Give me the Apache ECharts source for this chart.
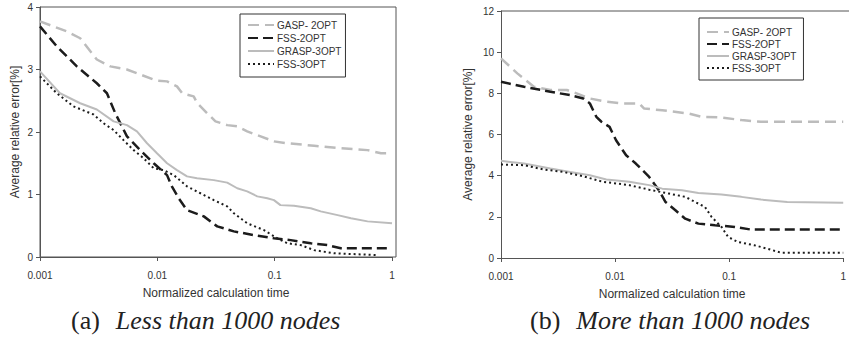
<!DOCTYPE html>
<html>
<head>
<meta charset="utf-8">
<script src="https://cdn.jsdelivr.net/npm/echarts@6/dist/echarts.min.js"></script>
<style>
  html, body { margin: 0; padding: 0; background: #fff; }
  #main { width: 849px; height: 342px; }
</style>
</head>
<body>
<div id="main"></div>
<script>
// series names + tick labels
const seriesNames = ['GASP- 2OPT', 'FSS-2OPT', 'GRASP-3OPT', 'FSS-3OPT'];
const xTickLabels = ['0.001', '0.01', '0.1', '1'];

// (a) less than 1000 nodes
const aGaspX = [0.001, 0.00169, 0.0022, 0.00305, 0.00398, 0.0055, 0.00716, 0.00993, 0.0121, 0.0147, 0.0163, 0.0204, 0.0219, 0.0266, 0.0313, 0.0394, 0.0479, 0.0583, 0.0759, 0.0986, 0.128, 0.217, 0.366, 0.619, 0.805, 1];
const aGaspY = [3.77, 3.61, 3.50, 3.16, 3.05, 3.00, 2.92, 2.82, 2.81, 2.73, 2.62, 2.57, 2.46, 2.30, 2.17, 2.11, 2.09, 2.01, 1.93, 1.85, 1.82, 1.78, 1.74, 1.71, 1.66, 1.66];
const aFss2X = [0.001, 0.00139, 0.00206, 0.00305, 0.00372, 0.00438, 0.00551, 0.00716, 0.00931, 0.0121, 0.0133, 0.0152, 0.0179, 0.0249, 0.0324, 0.0449, 0.0665, 0.0986, 0.137, 0.203, 0.282, 0.366, 0.95];
const aFss2Y = [3.69, 3.37, 3.05, 2.78, 2.62, 2.30, 1.93, 1.71, 1.50, 1.31, 1.13, 0.94, 0.75, 0.65, 0.49, 0.41, 0.35, 0.30, 0.27, 0.22, 0.19, 0.14, 0.14];
const aGrasp3X = [0.001, 0.00148, 0.0022, 0.00305, 0.00424, 0.00551, 0.0067, 0.00817, 0.00993, 0.0121, 0.0147, 0.0179, 0.0218, 0.0303, 0.0394, 0.048, 0.0583, 0.0711, 0.0865, 0.0986, 0.112, 0.146, 0.203, 0.247, 0.344, 0.447, 0.619, 1];
const aGrasp3Y = [2.97, 2.62, 2.46, 2.36, 2.17, 2.11, 2.01, 1.82, 1.66, 1.50, 1.39, 1.29, 1.26, 1.23, 1.19, 1.10, 1.05, 0.97, 0.94, 0.91, 0.83, 0.82, 0.78, 0.73, 0.67, 0.62, 0.57, 0.54];
const aFss3X = [0.001, 0.00139, 0.00193, 0.00286, 0.00348, 0.00424, 0.00515, 0.00628, 0.00764, 0.00931, 0.0113, 0.0138, 0.0179, 0.0233, 0.0303, 0.0394, 0.0449, 0.0583, 0.0811, 0.105, 0.128, 0.167, 0.217, 0.321, 0.753];
const aFss3Y = [2.89, 2.62, 2.41, 2.28, 2.14, 2.03, 1.87, 1.71, 1.58, 1.42, 1.39, 1.31, 1.13, 1.02, 0.91, 0.81, 0.70, 0.54, 0.43, 0.30, 0.22, 0.19, 0.11, 0.06, 0.03];

// (b) more than 1000 nodes
const bGaspX = [0.001, 0.00139, 0.00194, 0.00271, 0.00378, 0.0046, 0.00601, 0.00838, 0.0117, 0.0163, 0.018, 0.0259, 0.0441, 0.0575, 0.0857, 0.128, 0.19, 0.323, 1];
const bGaspY = [9.70, 8.97, 8.32, 8.16, 8.16, 8.00, 7.75, 7.59, 7.51, 7.51, 7.26, 7.18, 7.02, 6.86, 6.83, 6.70, 6.62, 6.62, 6.62];
const bFss2X = [0.001, 0.00159, 0.00271, 0.00404, 0.00526, 0.00601, 0.00685, 0.00759, 0.00895, 0.0102, 0.0125, 0.0152, 0.0199, 0.0242, 0.0277, 0.0338, 0.0412, 0.0538, 0.075, 0.112, 0.156, 1];
const bFss2Y = [8.56, 8.32, 8.08, 7.91, 7.75, 7.51, 6.86, 6.62, 6.37, 5.72, 4.99, 4.59, 3.94, 3.29, 2.72, 2.32, 1.91, 1.67, 1.59, 1.51, 1.38, 1.38];
const bGrasp3X = [0.001, 0.00159, 0.00271, 0.00404, 0.00601, 0.00838, 0.0133, 0.0199, 0.0259, 0.0386, 0.0538, 0.0857, 0.128, 0.19, 0.323, 1];
const bGrasp3Y = [4.72, 4.59, 4.35, 4.18, 4.02, 3.81, 3.70, 3.54, 3.37, 3.29, 3.16, 3.08, 2.97, 2.84, 2.72, 2.69];
const bFss3X = [0.001, 0.00159, 0.00237, 0.00353, 0.00526, 0.00783, 0.0133, 0.0199, 0.0296, 0.0412, 0.0504, 0.0614, 0.0702, 0.0857, 0.098, 0.119, 0.166, 0.217, 0.283, 1];
const bFss3Y = [4.54, 4.51, 4.30, 4.18, 3.97, 3.70, 3.54, 3.32, 3.13, 2.97, 2.72, 2.48, 1.99, 1.51, 1.02, 0.78, 0.62, 0.45, 0.26, 0.26];

const LIGHT = '#bcbcbc';
const DARK = '#1c1c1c';
const FONT = "'Liberation Sans', Arial, sans-serif";
const SERIF = "'Liberation Serif', 'Times New Roman', serif";

// line look for each method (same order as seriesNames)
const looks = [
  { color: LIGHT, width: 2.5, type: [11, 6] },
  { color: DARK, width: 2.5, type: [10, 5] },
  { color: LIGHT, width: 2, type: 'solid' },
  { color: DARK, width: 2, type: [2, 3] }
];

function pairs(xs, ys) {
  return xs.map((x, i) => [x, ys[i]]);
}

function lineSeries(k, xs, ys, idx) {
  return {
    name: seriesNames[k],
    type: 'line',
    xAxisIndex: idx,
    yAxisIndex: idx,
    symbol: 'none',
    animation: false,
    lineStyle: { color: looks[k].color, width: looks[k].width, type: looks[k].type },
    itemStyle: { color: looks[k].color },
    data: pairs(xs, ys)
  };
}

function xAxisFor(idx) {
  return {
    type: 'log',
    logBase: 10,
    gridIndex: idx,
    min: 0.001,
    max: 1,
    name: 'Normalized calculation time',
    nameLocation: 'middle',
    nameGap: 30,
    nameTextStyle: { fontSize: 12, color: '#333', fontFamily: FONT },
    axisLine: { lineStyle: { color: '#555', width: 1 } },
    axisTick: { inside: false, length: 4, lineStyle: { color: '#555' } },
    minorTick: { show: false },
    splitLine: { show: false },
    axisLabel: {
      fontSize: 10, color: '#333', fontFamily: FONT, margin: 13,
      formatter: v => xTickLabels[Math.round(Math.log10(v)) + 3]
    }
  };
}

function yAxisFor(idx, max, step, gap) {
  return {
    type: 'value',
    gridIndex: idx,
    min: 0,
    max: max,
    interval: step,
    name: 'Average relative error[%]',
    nameLocation: 'middle',
    nameGap: gap,
    nameTextStyle: { fontSize: 12, color: '#333', fontFamily: FONT },
    axisLine: { show: true, lineStyle: { color: '#555', width: 1 } },
    axisTick: { show: true, inside: false, length: 4, lineStyle: { color: '#555' } },
    splitLine: { show: false },
    axisLabel: { fontSize: 10, color: '#333', fontFamily: FONT, margin: 7 }
  };
}

function legendFor(left, top, iw, gap, pad) {
  return {
    data: seriesNames,
    orient: 'vertical',
    left: left,
    top: top,
    itemWidth: iw,
    itemHeight: 10,
    itemGap: gap,
    padding: pad,
    borderColor: '#333',
    borderWidth: 1,
    selectedMode: false,
    itemStyle: { opacity: 0 },
    textStyle: { fontSize: 10, color: '#333', fontFamily: FONT, padding: [0, 0, 0, -2] }
  };
}

function caption(left, tag, words) {
  return {
    type: 'text', left: left, top: 307,
    style: {
      text: '{n|' + tag + '}{i|' + words + '}',
      rich: {
        n: { fontSize: 26, fontFamily: SERIF, fill: '#222', padding: [0, 16, 0, 0] },
        i: { fontSize: 26, fontFamily: SERIF, fontStyle: 'italic', fill: '#222' }
      }
    }
  };
}

const option = {
  backgroundColor: '#fff',
  animation: false,
  grid: [
    { left: 40, top: 7, width: 352, height: 250 },
    { left: 501, top: 11, width: 347, height: 247 }
  ],
  xAxis: [xAxisFor(0), xAxisFor(1)],
  yAxis: [yAxisFor(0, 4, 1, 19), yAxisFor(1, 12, 2, 27)],
  legend: [
    legendFor(240, 14, 26, 3, [6, 4, 8, 7]),
    legendFor(699, 18, 22, 2, [9, 7, 7, 7])
  ],
  graphic: [
    // plot frames
    { type: 'rect', shape: { x: 40, y: 7, width: 356, height: 250 }, style: { fill: 'none', stroke: '#555', lineWidth: 1 }, silent: true, z: -1 },
    { type: 'line', shape: { x1: 501, y1: 11, x2: 849, y2: 11 }, style: { stroke: '#555', lineWidth: 1 }, silent: true },
    // sub-captions
    caption(71, '(a)', 'Less than 1000 nodes'),
    caption(530, '(b)', 'More than 1000 nodes')
  ],
  series: [
    lineSeries(0, aGaspX, aGaspY, 0),
    lineSeries(1, aFss2X, aFss2Y, 0),
    lineSeries(2, aGrasp3X, aGrasp3Y, 0),
    lineSeries(3, aFss3X, aFss3Y, 0),
    lineSeries(0, bGaspX, bGaspY, 1),
    lineSeries(1, bFss2X, bFss2Y, 1),
    lineSeries(2, bGrasp3X, bGrasp3Y, 1),
    lineSeries(3, bFss3X, bFss3Y, 1)
  ]
};

var myChart = echarts.init(document.getElementById('main'), null, { renderer: 'svg' });
myChart.setOption(option);
</script>
</body>
</html>
